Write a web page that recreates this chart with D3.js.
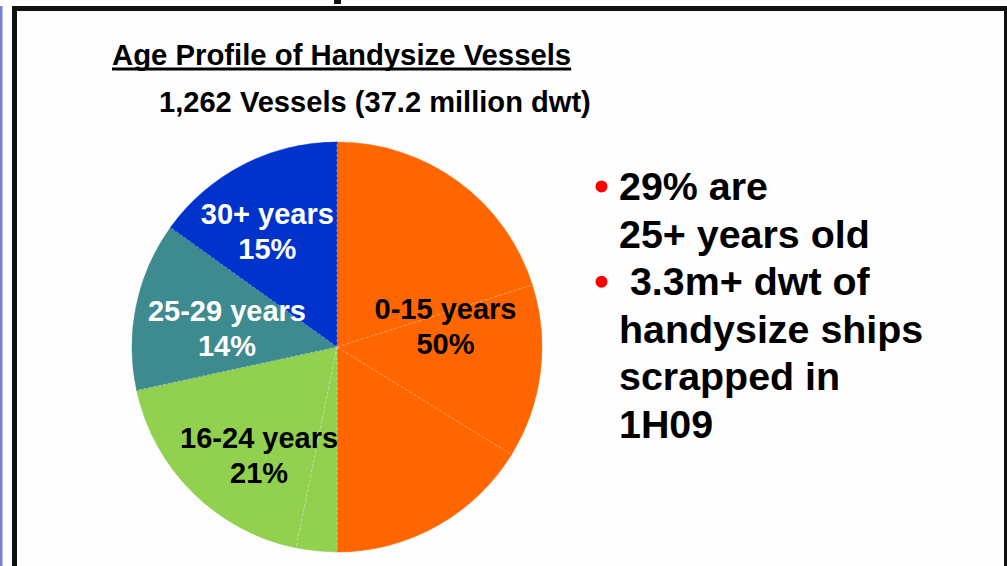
<!DOCTYPE html>
<html>
<head>
<meta charset="utf-8">
<script src="https://cdn.jsdelivr.net/npm/d3@7"></script>
<style>
  html, body { margin: 0; padding: 0; background: #fff; }
  svg { display: block; font-family: "Liberation Sans", Arial, sans-serif; font-weight: bold; }
</style>
</head>
<body>
<div id="chart"></div>
<script>
// age groups shown on the pie
var groups = ['0-15 years', '16-24 years', '25-29 years', '30+ years'];
var groupShares = ['50%', '21%', '14%', '15%'];
var groupColors = ['#ff6600', '#92d050', '#3d8b8e', '#0033cc'];
var groupTextColors = ['#000', '#000', '#fff', '#fff'];

// the pie is built of thinner slices, each one belongs to a group
var sliceGroup = [0, 0, 0, 1, 1, 2, 3];
var sliceValues = [20.1, 13.7, 16.2, 3.2, 18.4, 13.3, 15.1];

var title = 'Age Profile of Handysize Vessels';
var subtitle = '1,262 Vessels (37.2 million dwt)';
var bullets = [
  ['29% are', '25+ years old'],
  [' 3.3m+ dwt of', 'handysize ships', 'scrapped in', '1H09']
];

var width = 1007, height = 566;
var cx = 337, cy = 347, radius = 205;
// small shifts of the labels away from the group centroid
var labelNudge = [[-14.5, -21.4], [-0.7, 12.3], [10.4, 6.1], [-13.5, -6.1]];

var svg = d3.select('#chart').append('svg')
  .attr('width', width).attr('height', height);

// frame of the slide
svg.append('rect').attr('x', 0).attr('y', 6).attr('width', 2.5).attr('height', height)
  .attr('fill', '#7d7dd8');
svg.append('rect').attr('x', 14.5).attr('y', 8.5).attr('width', 992).attr('height', 620)
  .attr('fill', '#fdfdfd').attr('stroke', '#111').attr('stroke-width', 5);
// bit of a letter from the slide heading above the crop
svg.append('rect').attr('x', 334).attr('y', 0).attr('width', 7).attr('height', 4).attr('fill', '#111');

// titles
var t = svg.append('text').attr('x', 112).attr('y', 65).attr('font-size', 29.3)
  .attr('fill', '#000').text(title);
var tw = t.node().getComputedTextLength();
svg.append('rect').attr('x', 112).attr('y', 67.5).attr('width', tw).attr('height', 3).attr('fill', '#000');

svg.append('text').attr('x', 159).attr('y', 112).attr('font-size', 29.1)
  .attr('fill', '#000').text(subtitle);

// pie
var pie = d3.pie().sort(null).value(function(d) { return d; });
var arc = d3.arc().innerRadius(0).outerRadius(radius);
var arcs = pie(sliceValues);

var g = svg.append('g').attr('transform', 'translate(' + cx + ',' + cy + ')');
g.selectAll('path.slice').data(arcs).enter().append('path')
  .attr('class', 'slice')
  .attr('d', arc)
  .attr('fill', function(d, i) { return groupColors[sliceGroup[i]]; })
  .attr('stroke', function(d, i) { return groupColors[sliceGroup[i]]; })
  .attr('stroke-width', 0.5);

// faint dashed borders between slices
g.selectAll('line.sep').data(arcs).enter().append('line')
  .attr('class', 'sep')
  .attr('x1', 0).attr('y1', 0)
  .attr('x2', function(d) { return radius * Math.sin(d.startAngle); })
  .attr('y2', function(d) { return -radius * Math.cos(d.startAngle); })
  .attr('stroke', '#fff').attr('stroke-opacity', 0.45)
  .attr('stroke-width', 0.8).attr('stroke-dasharray', '3,2');

// group labels
var groupArcs = groups.map(function(name, gi) {
  var idx = sliceGroup.map(function(s, i) { return s === gi ? i : -1; }).filter(function(i) { return i >= 0; });
  return { startAngle: arcs[idx[0]].startAngle, endAngle: arcs[idx[idx.length - 1]].endAngle };
});
var labelArc = d3.arc().innerRadius(radius * 0.6).outerRadius(radius * 0.6);

groupArcs.forEach(function(a, gi) {
  var c = labelArc.centroid(a);
  var x = c[0] + labelNudge[gi][0], y = c[1] + labelNudge[gi][1];
  var lbl = g.append('text').attr('text-anchor', 'middle').attr('font-size', 29)
    .attr('fill', groupTextColors[gi]);
  lbl.append('tspan').attr('x', x).attr('y', y - 7.1).text(groups[gi]);
  lbl.append('tspan').attr('x', x).attr('y', y + 27.9).text(groupShares[gi]);
});

// bullet text on the right
var lineY = 200, step = 47.6;
bullets.forEach(function(lines) {
  svg.append('circle').attr('cx', 601.5).attr('cy', lineY - 13.5).attr('r', 6).attr('fill', '#ff0000');
  lines.forEach(function(line) {
    svg.append('text').attr('x', 619).attr('y', lineY).attr('font-size', 39.4)
      .attr('fill', '#000').style('white-space', 'pre').text(line);
    lineY += step;
  });
});
</script>
</body>
</html>
